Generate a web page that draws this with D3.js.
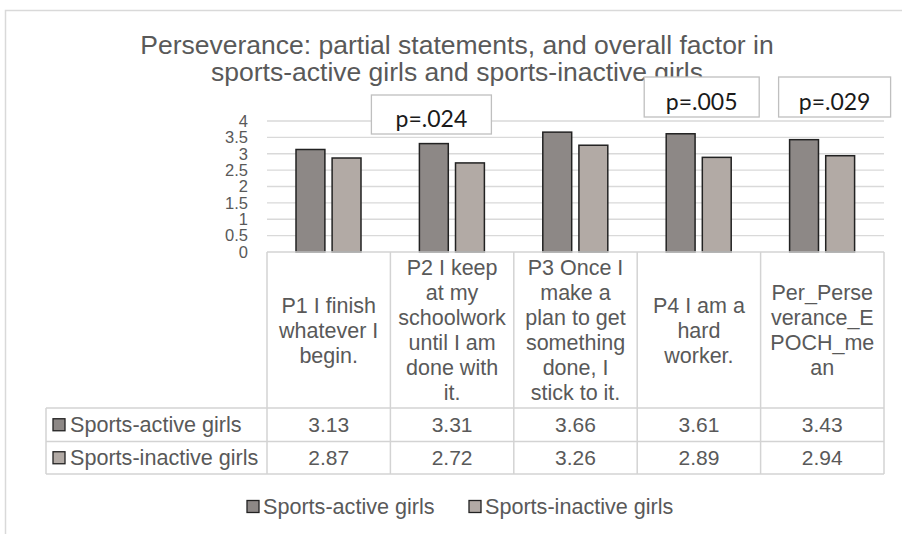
<!DOCTYPE html>
<html>
<head>
<meta charset="utf-8">
<style>
  body { margin: 0; background: #fff; }
  svg { display: block; }
  text { font-family: "Liberation Sans", Arial, sans-serif; fill: #595959; }
  .pval { font-family: Lato, "Open Sans", sans-serif; fill: #1a1a1a; }
</style>
<script src="https://cdnjs.cloudflare.com/ajax/libs/d3/7.8.5/d3.min.js"></script>
</head>
<body>
<div id="chart"></div>
<script>
// ---- data ----
const categories = ["P1", "P2", "P3", "P4", "Per"];
const headerLines = [
  ["P1 I finish", "whatever I", "begin."],
  ["P2 I keep", "at my", "schoolwork", "until I am", "done with", "it."],
  ["P3 Once I", "make a", "plan to get", "something", "done, I", "stick to it."],
  ["P4 I am a", "hard", "worker."],
  ["Per_Perse", "verance_E", "POCH_me", "an"]
];
const seriesNames = ["Sports-active girls", "Sports-inactive girls"];
const activeValues = [3.13, 3.31, 3.66, 3.61, 3.43];
const inactiveValues = [2.87, 2.72, 3.26, 2.89, 2.94];
const yTicks = [0, 0.5, 1, 1.5, 2, 2.5, 3, 3.5, 4];
const pLabels = ["", "p=.024", "", "p=.005", "p=.029"];
const titleLines = [
  "Perseverance: partial statements, and overall factor in",
  "sports-active girls and sports-inactive girls"
];

// ---- layout ----
const W = 902, H = 534;
const plotL = 267, plotR = 884, plotT = 121, plotB = 252;
const headB = 408, row1B = 441.5, row2B = 474, tableL = 46;
const colors = ["#8d8886", "#b2aaa5"];
// p-box placement relative to its column: [dx, width, top, bottom]
const pBoxLayout = [null, [-19, 120, 95, 134], null, [7, 115, 77, 117], [18, 112, 77, 117]];

const svg = d3.select("#chart").append("svg")
  .attr("width", W).attr("height", H);

// outer frame
svg.append("rect")
  .attr("x", 5.5).attr("y", 10.5).attr("width", 920).attr("height", 540)
  .attr("fill", "#fff").attr("stroke", "#d9d9d9").attr("stroke-width", 1.5);

const x = d3.scaleBand().domain(categories).range([plotL, plotR]);
const xs = d3.scaleBand().domain(seriesNames).range([29, 94]).paddingInner(0.2);
const y = d3.scaleLinear().domain([0, 4]).range([plotB, plotT]);

// title
svg.append("text")
  .attr("x", 457).attr("y", 53.5)
  .attr("text-anchor", "middle")
  .style("font-size", "26.5px")
  .selectAll("tspan").data(titleLines).enter().append("tspan")
  .attr("x", 457).attr("dy", (d, i) => i === 0 ? 0 : 27.5)
  .text(d => d);

// gridlines
svg.append("g").selectAll("line").data(yTicks.filter(t => t > 0)).enter().append("line")
  .attr("x1", plotL).attr("x2", plotR)
  .attr("y1", d => y(d)).attr("y2", d => y(d))
  .attr("stroke", "#d9d9d9").attr("stroke-width", 1.3);

// y axis labels
const yAxis = d3.axisLeft(y).tickValues(yTicks).tickSize(0).tickPadding(0)
  .tickFormat(d3.format("~g"));
svg.append("g").attr("transform", "translate(248,0)").call(yAxis)
  .call(g => g.select(".domain").remove())
  .call(g => g.selectAll("text")
    .attr("fill", "#595959")
    .style("font-family", "Liberation Sans, Arial, sans-serif")
    .style("font-size", "16.5px"));

// bars
const seriesData = [activeValues, inactiveValues];
seriesNames.forEach((s, si) => {
  svg.append("g").selectAll("rect").data(seriesData[si]).enter().append("rect")
    .attr("x", (d, i) => x(categories[i]) + xs(s))
    .attr("width", xs.bandwidth())
    .attr("y", d => y(d))
    .attr("height", d => y(0) - y(d))
    .attr("fill", colors[si])
    .attr("stroke", "#222").attr("stroke-width", 1.5);
});

// p-value boxes
pLabels.forEach((p, i) => {
  if (!p) return;
  const [dx, bw, t, b] = pBoxLayout[i];
  const bx = x(categories[i]) + dx;
  svg.append("rect")
    .attr("x", bx).attr("y", t).attr("width", bw).attr("height", b - t)
    .attr("fill", "#fff").attr("stroke", "#bfbfbf").attr("stroke-width", 1.3);
  svg.append("text").attr("class", "pval")
    .attr("x", bx + bw / 2).attr("y", b - 7)
    .attr("text-anchor", "middle")
    .style("font-size", "23px")
    .text(p);
});

// data table
const grid = svg.append("g").attr("stroke", "#d3d3d3").attr("stroke-width", 1.5);
grid.append("line").attr("x1", plotL).attr("x2", plotR).attr("y1", plotB).attr("y2", plotB);
[headB, row1B, row2B].forEach(yy => {
  grid.append("line").attr("x1", tableL).attr("x2", plotR).attr("y1", yy).attr("y2", yy);
});
categories.forEach(c => {
  grid.append("line").attr("x1", x(c)).attr("x2", x(c)).attr("y1", plotB).attr("y2", row2B);
});
grid.append("line").attr("x1", plotR).attr("x2", plotR).attr("y1", plotB).attr("y2", row2B);
grid.append("line").attr("x1", tableL).attr("x2", tableL).attr("y1", headB).attr("y2", row2B);

// header text
const lineH = 25;
const headMid = (plotB + headB) / 2;
headerLines.forEach((lines, i) => {
  const cx = x(categories[i]) + x.bandwidth() / 2;
  const y0 = headMid - (lines.length - 1) * lineH / 2;
  svg.append("g").selectAll("text").data(lines).enter().append("text")
    .attr("x", cx).attr("y", (d, j) => y0 + j * lineH)
    .attr("dy", "0.35em")
    .attr("text-anchor", "middle")
    .style("font-size", "21.5px")
    .text(d => d);
});

// rows
const rowMids = [(headB + row1B) / 2, (row1B + row2B) / 2];
seriesNames.forEach((s, si) => {
  const ym = rowMids[si];
  svg.append("rect")
    .attr("x", 53).attr("y", ym - 6).attr("width", 12).attr("height", 12)
    .attr("fill", colors[si]).attr("stroke", "#222").attr("stroke-width", 1.3);
  svg.append("text").attr("x", 70).attr("y", ym).attr("dy", "0.35em")
    .style("font-size", "21.6px").text(s);
  svg.append("g").selectAll("text").data(seriesData[si]).enter().append("text")
    .attr("x", (d, i) => x(categories[i]) + x.bandwidth() / 2)
    .attr("y", ym).attr("dy", "0.35em")
    .attr("text-anchor", "middle")
    .style("font-size", "21px")
    .text(d => d.toFixed(2));
});

// legend
const legendX = [247, 469];
seriesNames.forEach((s, si) => {
  svg.append("rect")
    .attr("x", legendX[si]).attr("y", 500.5).attr("width", 12).attr("height", 12)
    .attr("fill", colors[si]).attr("stroke", "#222").attr("stroke-width", 1.3);
  svg.append("text").attr("x", legendX[si] + 16).attr("y", 506.5).attr("dy", "0.35em")
    .style("font-size", "21.6px").text(s);
});
</script>
</body>
</html>
